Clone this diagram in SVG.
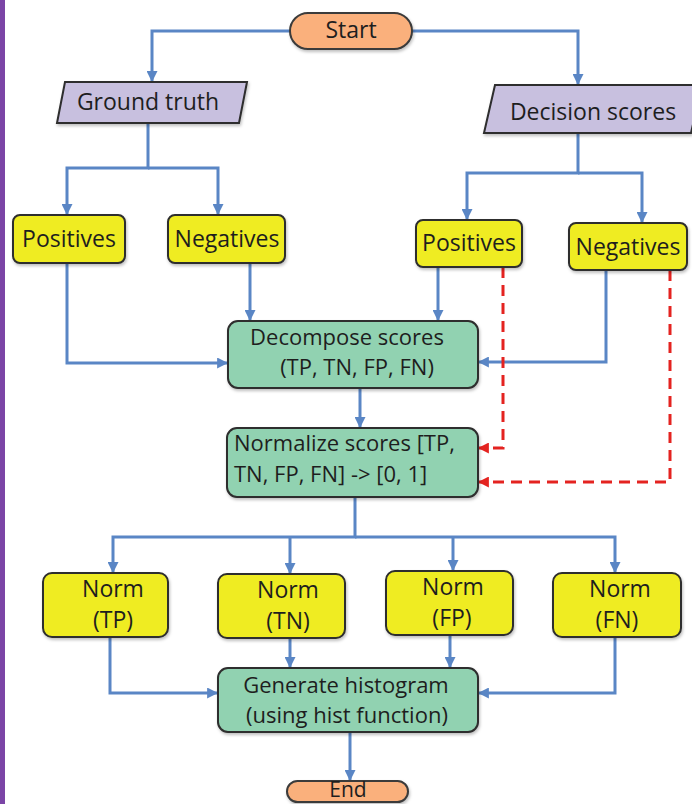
<svg xmlns="http://www.w3.org/2000/svg" width="692" height="804" viewBox="0 0 692 804">
<defs>
<marker id="ab" viewBox="0 0 10 10" markerWidth="11" markerHeight="11" markerUnits="userSpaceOnUse" refX="9" refY="5" orient="auto"><path d="M0,0 L10,5 L0,10 z" fill="#5a86c5"/></marker>
<marker id="ar" viewBox="0 0 10 10" markerWidth="11" markerHeight="11" markerUnits="userSpaceOnUse" refX="9" refY="5" orient="auto"><path d="M0,0 L10,5 L0,10 z" fill="#e42320"/></marker>
<filter id="sh" x="-10%" y="-10%" width="120%" height="130%"><feDropShadow dx="1" dy="2" stdDeviation="1.5" flood-color="#000" flood-opacity="0.25"/></filter>
</defs>
<style>
text{font-family:"Open Sans","Liberation Sans",sans-serif;font-size:23px;fill:#1e1e1e;text-anchor:middle}
.two{font-size:22px}
.term{fill:#fab07c;stroke:#3a3a3a;stroke-width:2}
.io{fill:#c8c0df;stroke:#2d2d2d;stroke-width:2}
.yl{fill:#efec22;stroke:#2d2d2d;stroke-width:2}
.gr{fill:#91d2b1;stroke:#2d2d2d;stroke-width:2}
.c{fill:none;stroke:#5a86c5;stroke-width:3}
.r{fill:none;stroke:#e42320;stroke-width:3;stroke-dasharray:11 7}
</style>
<rect x="0" y="0" width="692" height="804" fill="#ffffff"/>
<rect x="0" y="0" width="5" height="804" fill="#7b45a6"/>
<g id="connectors">
<path class="c" d="M290,31 H152 V81" marker-end="url(#ab)"/>
<path class="c" d="M412,31 H578 V84" marker-end="url(#ab)"/>
<path class="c" d="M148,123 V168 H67 V214" marker-end="url(#ab)"/>
<path class="c" d="M148,168 H218 V214" marker-end="url(#ab)"/>
<path class="c" d="M578,133 V173 H467 V219" marker-end="url(#ab)"/>
<path class="c" d="M578,173 H642 V222" marker-end="url(#ab)"/>
<path class="c" d="M67,263 V363 H227" marker-end="url(#ab)"/>
<path class="c" d="M250,263 V320" marker-end="url(#ab)"/>
<path class="c" d="M438,267 V320" marker-end="url(#ab)"/>
<path class="c" d="M606,270 V362 H479" marker-end="url(#ab)"/>
<path class="c" d="M360,388 V427" marker-end="url(#ab)"/>
<path class="c" d="M355,497 V537 H113 V572" marker-end="url(#ab)"/>
<path class="c" d="M290,537 V573" marker-end="url(#ab)"/>
<path class="c" d="M355,537 H615 V572" marker-end="url(#ab)"/>
<path class="c" d="M453,537 V570" marker-end="url(#ab)"/>
<path class="c" d="M110,637 V693 H217" marker-end="url(#ab)"/>
<path class="c" d="M290,638 V667" marker-end="url(#ab)"/>
<path class="c" d="M450,635 V667" marker-end="url(#ab)"/>
<path class="c" d="M615,637 V693 H479" marker-end="url(#ab)"/>
<path class="c" d="M350,732 V780" marker-end="url(#ab)"/>
<path class="r" d="M503,267 V448 H479" marker-end="url(#ar)"/>
<path class="r" d="M670,270 V482 H479" marker-end="url(#ar)"/>
</g>
<g id="start"><rect class="term" x="290" y="13" width="122" height="36" rx="18" filter="url(#sh)"/><text x="351" y="38">Start</text></g>
<g id="ground-truth"><polygon class="io" points="65,82 247,82 239,123 57,123" filter="url(#sh)"/><text x="148" y="110">Ground truth</text></g>
<g id="decision-scores"><polygon class="io" points="495,85 702,85 691,133 484,133" filter="url(#sh)"/><text x="593" y="120">Decision scores</text></g>
<g id="positives-gt"><rect class="yl" x="13" y="215" width="112" height="48" rx="7" filter="url(#sh)"/><text x="69" y="247">Positives</text></g>
<g id="negatives-gt"><rect class="yl" x="168" y="215" width="117" height="48" rx="7" filter="url(#sh)"/><text x="227" y="247">Negatives</text></g>
<g id="positives-ds"><rect class="yl" x="416" y="220" width="106" height="47" rx="7" filter="url(#sh)"/><text x="469" y="251">Positives</text></g>
<g id="negatives-ds"><rect class="yl" x="569" y="223" width="118" height="47" rx="7" filter="url(#sh)"/><text x="628" y="255">Negatives</text></g>
<g id="decompose"><rect class="gr" x="228" y="321" width="250" height="67" rx="10" filter="url(#sh)"/><text class="two" x="347" y="345">Decompose scores</text><text class="two" x="357" y="375">(TP, TN, FP, FN)</text></g>
<g id="normalize"><rect class="gr" x="227" y="428" width="251" height="69" rx="10" filter="url(#sh)"/><text class="two" x="234" y="451" style="text-anchor:start">Normalize scores [TP,</text><text class="two" x="234" y="482" style="text-anchor:start">TN, FP, FN] -&gt; [0, 1]</text></g>
<g id="norm-tp"><rect class="yl" x="43" y="573" width="125" height="64" rx="9" filter="url(#sh)"/><text x="113" y="597">Norm</text><text x="113" y="628">(TP)</text></g>
<g id="norm-tn"><rect class="yl" x="218" y="574" width="127" height="64" rx="9" filter="url(#sh)"/><text x="288" y="598">Norm</text><text x="288" y="629">(TN)</text></g>
<g id="norm-fp"><rect class="yl" x="386" y="571" width="127" height="64" rx="9" filter="url(#sh)"/><text x="453" y="595">Norm</text><text x="452" y="626">(FP)</text></g>
<g id="norm-fn"><rect class="yl" x="553" y="573" width="128" height="64" rx="9" filter="url(#sh)"/><text x="620" y="597">Norm</text><text x="617" y="628">(FN)</text></g>
<g id="generate"><rect class="gr" x="218" y="668" width="260" height="64" rx="10" filter="url(#sh)"/><text class="two" x="346" y="693">Generate histogram</text><text class="two" x="347" y="723">(using hist function)</text></g>
<g id="end"><rect class="term" x="287" y="781" width="121" height="21" rx="10.5" filter="url(#sh)"/><text x="348" y="797" style="font-size:21px">End</text></g>
</svg>
